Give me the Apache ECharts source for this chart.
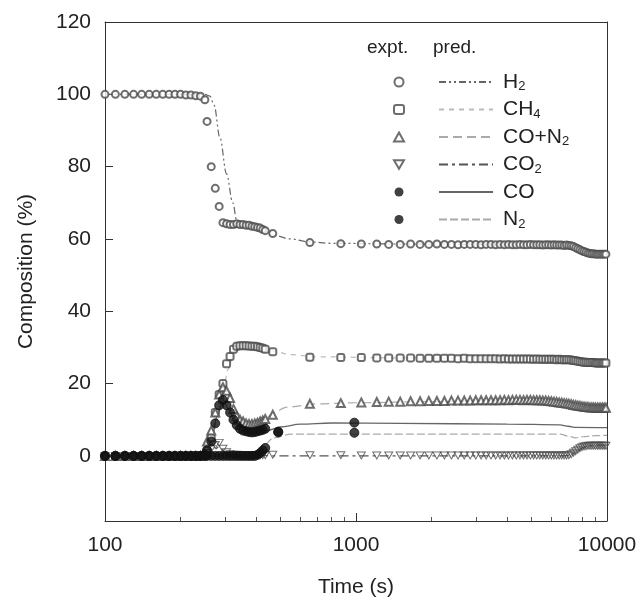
<!DOCTYPE html>
<html>
<head>
<meta charset="utf-8">
<script src="https://cdn.jsdelivr.net/npm/echarts@6/dist/echarts.min.js"></script>
<style>
html,body{margin:0;padding:0;background:#fff;}
#chart{width:643px;height:603px;}
</style>
</head>
<body>
<div id="chart"></div>
<script>
// ---------- data ----------
const xTicks = [100, 1000, 10000];
const xMinorTicks = [200, 300, 400, 500, 600, 700, 800, 900, 2000, 3000, 4000, 5000, 6000, 7000, 8000, 9000];
const yTicks = [0, 20, 40, 60, 80, 100, 120];

// experimental sampling times (s)
const tDense = [100,110,120,130,140,150,160,170,180,190,200,210,220,230,240,
  250,255,265,275,285,295,305,315,325,335,345,355,365,375,385,395,405,415,425,435];
const tSparse = [466,655,870,1050,1210,1350,1500,1650,1800,1950,2100,2250,2400,2550,2700,2850,3000,
  3150,3300,3450,3600,3750,3900,4050,4200,4350,4500,4650,4800,4950,5100,5250,5400,5550,5700,5850,
  6000,6150,6300,6450,6600,6750,6900,7050,7200,7350,7500,7650,7800,7950,8100,8250,8400,8550,8700,
  8850,9000,9150,9300,9450,9600,9750,9900];
const tCoN2Extra = [490, 985];

// H2 expt
const h2Dense = [100,100,100,100,100,100,100,100,100,100,100,99.8,99.8,99.6,99.5,
  98.5,92.5,80,74,69,64.5,64.2,64,64,64.2,64,64,63.8,63.8,63.5,63.4,63.2,63,62.6,62.3];
const h2Sparse = [61.5,59.0,58.7,58.6,58.6,58.5,58.5,58.6,58.5,58.5,
  58.6,58.5,58.5,58.4,58.5,58.5,58.5,58.4,58.5,58.5,
  58.4,58.5,58.4,58.5,58.4,58.4,58.5,58.4,58.4,58.5,
  58.4,58.4,58.4,58.3,58.4,58.4,58.3,58.4,58.3,58.3,
  58.3,58.2,58.3,58.2,58.1,57.9,57.6,57.3,57.0,56.7,
  56.5,56.3,56.1,56.0,55.9,55.9,55.8,55.8,55.8,55.8,
  55.8,55.8,55.8];
// CH4 expt
const ch4Dense = [0,0,0,0,0,0,0,0,0,0,0,0,0,0,0,
  0.3,1.5,5,12,17,20,25.5,27.5,29.5,30.3,30.5,30.5,30.5,30.4,30.3,30.3,30.2,30,29.8,29.5];
const ch4Sparse = [28.8,27.3,27.2,27.2,27.1,27.1,27.1,27.1,27.0,27.0,
  27.0,27.0,27.0,26.9,27.0,26.9,26.9,26.9,26.9,26.9,
  26.9,26.8,26.9,26.8,26.8,26.8,26.8,26.8,26.8,26.8,
  26.7,26.8,26.7,26.7,26.7,26.7,26.7,26.7,26.6,26.7,
  26.6,26.6,26.6,26.6,26.5,26.4,26.3,26.2,26.1,26.0,
  25.9,25.9,25.8,25.8,25.8,25.8,25.7,25.7,25.7,25.7,
  25.7,25.7,25.7];
// CO+N2 expt
const coN2Dense = [0,0,0,0,0,0,0,0,0,0,0,0,0,0,0,
  0.5,4,7,12,17,19,18,16,13,11,10,9.5,9,8.8,8.8,9,9.2,9.5,9.8,10.2];
const coN2Sparse = [11.4,14.4,14.6,14.8,14.9,15.0,15.0,15.1,15.1,15.2,
  15.2,15.2,15.3,15.3,15.3,15.3,15.4,15.4,15.4,15.4,
  15.4,15.4,15.5,15.4,15.5,15.5,15.5,15.4,15.5,15.5,
  15.4,15.4,15.4,15.3,15.3,15.2,15.1,15.0,14.9,14.8,
  14.7,14.6,14.5,14.4,14.3,14.1,14.0,13.9,13.8,13.7,
  13.6,13.5,13.5,13.4,13.4,13.4,13.3,13.3,13.3,13.3,
  13.3,13.3,13.3];
// CO2 expt
const co2Dense = [0,0,0,0,0,0,0,0,0,0,0,0,0,0,0,
  0.2,0.8,2,3,3.6,2,1,0.5,0.3,0.3,0.2,0.2,0.2,0.2,0.2,0.2,0.2,0.2,0.2,0.2];
const co2Sparse = [0.3,0.2,0.2,0.1,0.1,0.1,0.1,0.1,0.1,0.1,
  0.1,0.1,0.1,0.1,0.1,0.1,0.1,0.1,0.1,0.1,
  0.1,0.1,0.1,0.1,0.1,0.1,0.1,0.1,0.1,0.1,
  0.1,0.1,0.1,0.1,0.1,0.1,0.1,0.1,0.1,0.1,
  0.1,0.1,0.1,0.2,0.5,0.9,1.3,1.7,2.1,2.4,
  2.6,2.7,2.8,2.8,2.8,2.8,2.8,2.8,2.8,2.8,
  2.8,2.8,2.8];
// CO and N2 expt (dense times + two extra)
const coDense = [0,0,0,0,0,0,0,0,0,0,0,0,0,0,0,
  0.3,1.5,4,9,14,15.5,14,12,10,8.5,7.5,7,6.8,6.6,6.5,6.6,6.8,7,7.2,7.5];
const coExtra = [6.7, 9.2];
const n2Dense = [0,0,0,0,0,0,0,0,0,0,0,0,0,0,0,
  0,0,0,0,0,0,0,0,0,0,0,0,0,0,0,0,0.3,0.8,1.5,2.2];
const n2Extra = [6.5, 6.4];

// predictions [time, value]
const predH2 = [[100,100],[250,100],[262,99.5],[272,97],[287,88],[305,78],[323,70],[335,65],[360,63.5],
  [400,62.8],[470,61],[550,60],[650,59.2],[800,58.8],[1500,58.6],[3000,58.5],[6000,58.4],[7000,58.2],
  [7500,57.6],[8000,56.9],[8500,56.3],[9000,56],[10000,55.9]];
const predCH4 = [[100,0],[255,0],[265,3],[280,10],[295,18],[310,24],[325,28],[345,30],[380,30.5],[420,30],
  [470,29],[550,28],[700,27.4],[1500,27.1],[4000,26.9],[7000,26.7],[8000,26.2],[9000,25.9],[10000,25.8]];
const predCON2 = [[100,0],[250,0],[262,3],[275,10],[290,17],[300,19],[315,17],[335,12],[360,9.5],[390,9],
  [430,10],[470,12],[530,13.5],[700,14.4],[1000,14.7],[2000,15],[4000,15.3],[6000,15.2],[7000,14.6],
  [8000,13.8],[9000,13.4],[10000,13.3]];
const predCO2 = [[100,0],[250,0],[270,1.5],[285,2.5],[300,1],[330,0.3],[500,0],[6800,0],[7200,0.4],
  [7600,1.3],[8000,2.2],[8400,2.8],[9000,3],[10000,3]];
const predCO = [[100,0],[250,0],[265,4],[280,11],[295,15.5],[310,13],[330,9.5],[360,7.3],[400,6.6],
  [440,7],[500,8],[600,8.8],[800,9.1],[1500,9.0],[4000,8.8],[6500,8.6],[7000,8.2],[7500,7.9],[10000,7.8]];
const predN2 = [[100,0],[380,0],[400,1],[430,3],[470,5],[550,6],[800,6],[6500,6],[7000,5.5],[7500,5],
  [8000,5.3],[9000,5.6],[10000,5.7]];

const speciesNames = ['H2', 'CH4', 'CO+N2', 'CO2', 'CO', 'N2'];

// ---------- build ----------
function pairs(ts, vs) { return ts.map((t, i) => [t, vs[i]]); }
const tAll = tDense.concat(tSparse);
const tCo = tDense.concat(tCoN2Extra);

const labelRich = {
  'H2': 'H{s|2}', 'CH4': 'CH{s|4}', 'CO+N2': 'CO+N{s|2}', 'CO2': 'CO{s|2}', 'CO': 'CO', 'N2': 'N{s|2}'
};

const markerColor = '#4a4a4a';
const downTriangle = 'path://M0,0L10,0L5,8.66Z';
function expt(name, data, symbol, extra) {
  return Object.assign({
    name: name + ' expt', type: 'scatter', data: data, symbol: symbol, symbolSize: 7,
    xAxisIndex: 0, yAxisIndex: 0,
    itemStyle: { color: markerColor, borderColor: markerColor, borderWidth: 1 },
    z: 5, silent: true
  }, extra || {});
}
function pred(name, data, color, type, width) {
  return {
    name: name, type: 'line', data: data, showSymbol: false, symbol: 'none',
    xAxisIndex: 0, yAxisIndex: 0,
    smooth: 0.35, smoothMonotone: 'x',
    lineStyle: { color: color, width: width || 1.2, type: type },
    itemStyle: { color: color },
    z: 3, silent: true
  };
}

const series = [
  pred('H2', predH2, '#666', [7, 3, 2, 3, 2, 3]),
  pred('CH4', predCH4, '#bbb', [5, 5]),
  pred('CO+N2', predCON2, '#aaa', [9, 5]),
  pred('CO2', predCO2, '#555', [9, 4, 3, 4]),
  pred('CO', predCO, '#666', 'solid', 1.3),
  pred('N2', predN2, '#aaa', [8, 3]),
  expt('H2', pairs(tAll, h2Dense.concat(h2Sparse)), 'emptyCircle'),
  expt('CH4', pairs(tAll, ch4Dense.concat(ch4Sparse)), 'emptyRoundRect'),
  expt('CO+N2', pairs(tAll, coN2Dense.concat(coN2Sparse)), 'emptyTriangle', { symbolSize: 8 }),
  expt('CO2', pairs(tAll, co2Dense.concat(co2Sparse)), downTriangle,
    { symbolSize: [8, 7], itemStyle: { color: 'rgba(255,255,255,0)', borderColor: markerColor, borderWidth: 1 } }),
  expt('CO', pairs(tCo, coDense.concat(coExtra)), 'circle', { symbolSize: 9, itemStyle: { color: '#111', borderColor: '#111' }, z: 6 }),
  expt('N2', pairs(tCo, n2Dense.concat(n2Extra)), 'circle', { symbolSize: 9, itemStyle: { color: '#111', borderColor: '#111' }, z: 6 })
];

const textColor = '#222';
const axisColor = '#333';
const fontFamily = '"Liberation Sans", Arial, sans-serif';

const option = {
  animation: false,
  backgroundColor: '#fff',
  textStyle: { fontFamily: fontFamily },
  grid: { left: 105, right: 36, top: 22, bottom: 80 },
  xAxis: [{
    type: 'log', logBase: 10, min: 100, max: 10000, position: 'bottom',
    name: 'Time (s)', nameLocation: 'middle', nameGap: 56,
    nameTextStyle: { fontSize: 21, color: textColor, fontFamily: fontFamily },
    axisLine: { show: true, onZero: false, lineStyle: { color: axisColor, width: 1 } },
    axisTick: { show: true, inside: true, length: 8, customValues: xTicks, lineStyle: { color: axisColor, width: 1 } },
    axisLabel: { show: true, customValues: xTicks, fontSize: 21, color: textColor, margin: 14, fontFamily: fontFamily,
      formatter: function (v) { return String(Math.round(v)); } },
    splitLine: { show: false }
  }, {
    type: 'log', logBase: 10, min: 100, max: 10000, position: 'bottom',
    axisLine: { show: false, onZero: false },
    axisTick: { show: true, inside: true, length: 4, customValues: xMinorTicks, lineStyle: { color: '#555', width: 1 } },
    axisLabel: { show: false }, splitLine: { show: false }
  }, {
    type: 'log', logBase: 10, min: 100, max: 10000, position: 'top',
    axisLine: { show: true, onZero: false, lineStyle: { color: axisColor, width: 1 } },
    axisTick: { show: false }, axisLabel: { show: false }, splitLine: { show: false }
  }],
  yAxis: [{
    type: 'value', min: -18, max: 120, position: 'left',
    name: 'Composition (%)', nameLocation: 'middle', nameGap: 68,
    nameTextStyle: { fontSize: 21, color: textColor, fontFamily: fontFamily },
    axisLine: { show: true, onZero: false, lineStyle: { color: axisColor, width: 1 } },
    axisTick: { show: true, inside: true, length: 8, customValues: yTicks, lineStyle: { color: axisColor, width: 1 } },
    axisLabel: { show: true, customValues: yTicks, fontSize: 21, color: textColor, margin: 14, fontFamily: fontFamily },
    splitLine: { show: false }
  }, {
    type: 'value', min: -18, max: 120, position: 'right',
    axisLine: { show: true, onZero: false, lineStyle: { color: axisColor, width: 1 } },
    axisTick: { show: false }, axisLabel: { show: false }, splitLine: { show: false }
  }],
  legend: [{
    data: speciesNames.map(n => n + ' expt'),
    orient: 'vertical', left: 388, top: 66,
    itemWidth: 10, itemHeight: 9, itemGap: 5.5, selectedMode: false,
    formatter: function () { return ' '; },
    textStyle: { fontSize: 20, lineHeight: 22, color: 'rgba(0,0,0,0)' }
  }, {
    data: speciesNames,
    orient: 'vertical', left: 433, top: 66,
    itemWidth: 54, itemHeight: 9, itemGap: 5.5, selectedMode: false,
    itemStyle: { opacity: 0 },
    formatter: function (n) { return labelRich[n]; },
    textStyle: {
      fontSize: 21, lineHeight: 22, color: textColor, fontFamily: fontFamily, padding: [0, 0, 0, 5],
      rich: { s: { fontSize: 13, lineHeight: 6, verticalAlign: 'bottom', color: textColor, fontFamily: fontFamily } }
    }
  }],
  graphic: [
    { type: 'text', left: 367, top: 38, style: { text: 'expt.', fontSize: 19, fill: textColor, fontFamily: fontFamily } },
    { type: 'text', left: 433, top: 38, style: { text: 'pred.', fontSize: 19, fill: textColor, fontFamily: fontFamily } }
  ],
  series: series
};

const chart = echarts.init(document.getElementById('chart'), null, { renderer: 'canvas' });
chart.setOption(option);
</script>
</body>
</html>
